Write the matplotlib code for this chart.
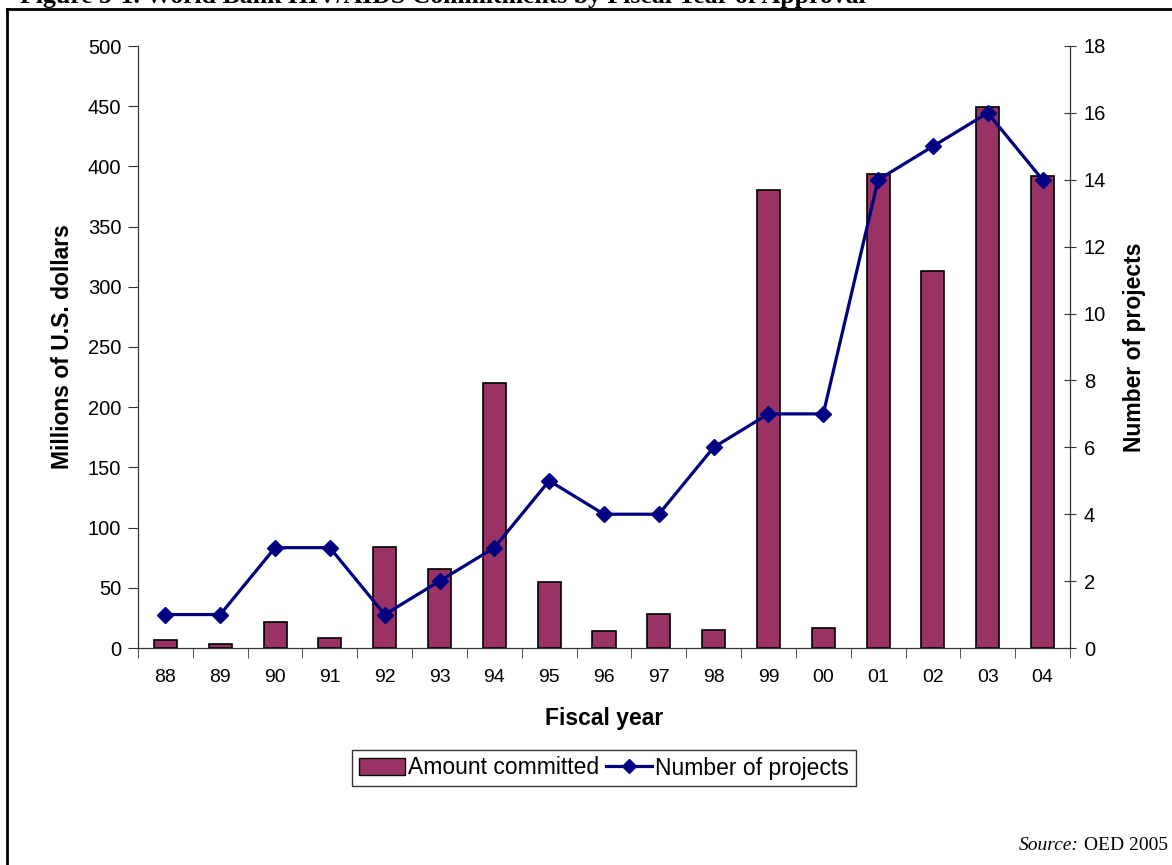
import numpy as np
import matplotlib.pyplot as plt
from matplotlib.lines import Line2D
from matplotlib.patches import Rectangle

# Data
years = ['88', '89', '90', '91', '92', '93', '94', '95', '96', '97', '98',
         '99', '00', '01', '02', '03', '04']
amount = [7, 3, 22, 8, 84, 66, 220, 55, 14, 28, 15, 380, 17, 394, 313, 449, 392]
projects = [1, 1, 3, 3, 1, 2, 3, 5, 4, 4, 6, 7, 7, 14, 15, 16, 14]

bar_color = '#993366'
line_color = '#000080'

plt.rcParams['font.family'] = ['Liberation Sans', 'DejaVu Sans']

fig = plt.figure(figsize=(11.72, 8.65), dpi=100)
W, H = 1172, 865

# Axes placement in pixels (left, top, right, bottom)
l, t, r, b = 138, 46, 1070, 648
ax = fig.add_axes([l / W, 1 - b / H, (r - l) / W, (b - t) / H])

x = np.arange(len(years))
ax.bar(x, amount, width=0.42, color=bar_color, edgecolor='black', linewidth=1.2, zorder=2)
ax.set_xlim(-0.5, len(years) - 0.5)
ax.set_ylim(0, 500)
ax.set_yticks(np.arange(0, 501, 50))
ax.set_xticks(x)
ax.set_xticklabels(years, fontsize=14)
ax.tick_params(axis='x', length=0, pad=15)
ax.set_xticks(np.arange(-0.5, len(years)), minor=True)
ax.tick_params(axis='x', which='minor', length=7, direction='out', color='#333333')
ax.tick_params(axis='y', labelsize=14.5, length=7, direction='out', color='#333333', pad=5)
ax.spines['top'].set_visible(False)
for s in ['left', 'bottom', 'right']:
    ax.spines[s].set_color('#333333')
ax.set_xlabel('Fiscal year', fontsize=16.5, fontweight='bold', labelpad=15)
ax.set_ylabel('Millions of U.S. dollars', fontsize=16.5, fontweight='bold', labelpad=10)

ax2 = ax.twinx()
ax2.plot(x, projects, color=line_color, linewidth=2.3, marker='D', markersize=8.5,
         zorder=3)
ax2.set_ylim(0, 18)
ax2.set_yticks(np.arange(0, 19, 2))
ax2.tick_params(axis='y', labelsize=14.5, length=8, direction='inout', color='#333333', pad=6)
ax2.spines['top'].set_visible(False)
for s in ['left', 'bottom', 'right']:
    ax2.spines[s].set_color('#333333')
ax2.set_ylabel('Number of projects', fontsize=16.5, fontweight='bold', labelpad=12)

handles = [Rectangle((0, 0), 1, 1, facecolor=bar_color, edgecolor='black'),
           Line2D([], [], color=line_color, linewidth=2.3, marker='D', markersize=7)]
fig.legend(handles, ['Amount committed', 'Number of projects'], ncol=2,
           loc='center', bbox_to_anchor=(604 / W, 1 - 768 / H), fontsize=16.5,
           frameon=True, fancybox=False, edgecolor='black', handlelength=2.0,
           handletextpad=0.15, columnspacing=0.3, borderpad=0.3)

# Title (cut off at the top in the original) and the outer frame
fig.text(20 / W, 1 - 3 / H, 'Figure 5-1. World Bank HIV/AIDS Commitments by Fiscal Year of Approval',
         family='Liberation Serif', fontsize=18.5, fontweight='bold', va='baseline', ha='left')
fig.add_artist(Line2D([7 / W, 1], [1 - 9 / H, 1 - 9 / H], color='black', linewidth=2,
                      transform=fig.transFigure))
fig.add_artist(Line2D([7 / W, 7 / W], [0, 1 - 9 / H], color='black', linewidth=2,
                      transform=fig.transFigure))

# Source note: italic "Source:" followed by plain "OED 2005"
src = fig.text(1168 / W, 1 - 846 / H, 'OED 2005', family='Liberation Serif', fontsize=14,
               ha='right', va='center')
renderer = fig.canvas.get_renderer()
bb = src.get_window_extent(renderer)
fig.text((bb.x0 - 5) / W, 1 - 846 / H, 'Source:', family='Liberation Serif', fontsize=14,
         style='italic', ha='right', va='center')

fig.savefig('out.png', dpi=100)
